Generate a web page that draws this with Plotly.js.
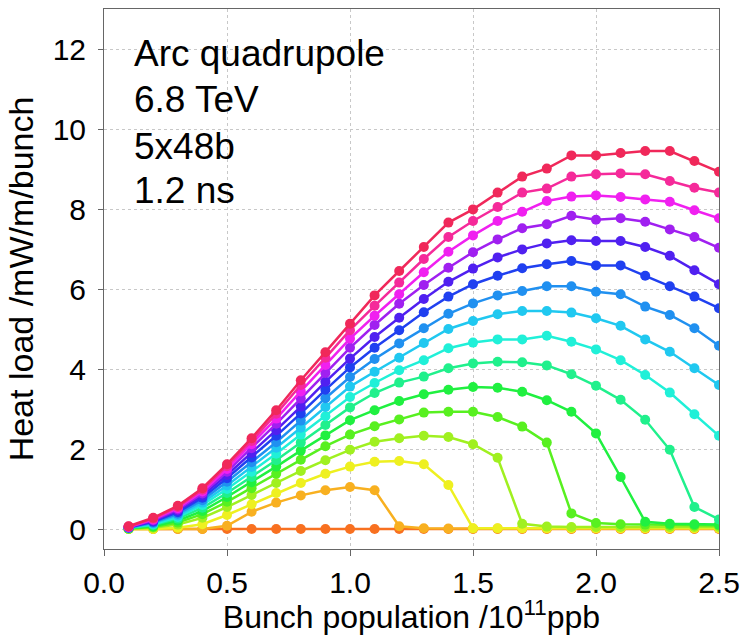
<!DOCTYPE html>
<html>
<head>
<meta charset="utf-8">
<script src="https://cdn.plot.ly/plotly-3.0.1.min.js"></script>
<style>html,body{margin:0;padding:0;background:#fff;}#chart{width:745px;height:635px;}</style>
</head>
<body>
<div id="chart"></div>
<script>
// Bunch population (1e11 ppb)
const bunchPop = [0.1,0.2,0.3,0.4,0.5,0.6,0.7,0.8,0.9,1.0,1.1,1.2,1.3,1.4,1.5,1.6,1.7,1.8,1.9,2.0,2.1,2.2,2.3,2.4,2.5];

// Heat load series (mW/m/bunch), from lowest to highest curve
const s16 = [0,0,0,0,0,0,0,0,0,0,0,0,0,0,0,0,0,0,0,0,0,0,0,0,0];
const s15 = [0.00,0.00,0.00,0.00,0.08,0.43,0.66,0.84,0.97,1.05,0.97,0.07,0.02,0.01,0.01,0.01,0.01,0.01,0.01,0.01,0.01,0.01,0.01,0.01,0.01];
const s14 = [0.00,0.00,0.03,0.12,0.35,0.62,0.90,1.15,1.38,1.56,1.68,1.70,1.62,1.10,0.02,0.02,0.02,0.02,0.02,0.02,0.02,0.02,0.02,0.02,0.02];
const s13 = [0.00,0.03,0.11,0.28,0.55,0.85,1.15,1.45,1.72,1.98,2.18,2.27,2.33,2.30,2.12,1.78,0.13,0.06,0.05,0.05,0.05,0.05,0.05,0.05,0.05];
const s12 = [0.01,0.05,0.16,0.37,0.68,1.02,1.38,1.73,2.07,2.36,2.57,2.74,2.91,2.93,2.93,2.80,2.56,2.16,0.39,0.15,0.12,0.11,0.10,0.09,0.09];
const s11 = [0.02,0.07,0.21,0.45,0.80,1.17,1.56,1.96,2.34,2.72,2.97,3.20,3.37,3.48,3.55,3.53,3.43,3.22,2.93,2.39,1.30,0.18,0.13,0.12,0.11];
const s10 = [0.02,0.10,0.26,0.53,0.90,1.30,1.72,2.16,2.60,3.04,3.40,3.66,3.81,4.02,4.14,4.18,4.17,4.09,3.87,3.58,3.23,2.73,1.98,0.55,0.24];
const s9  = [0.03,0.12,0.30,0.60,1.00,1.43,1.88,2.36,2.82,3.30,3.65,3.97,4.22,4.52,4.66,4.74,4.74,4.83,4.68,4.49,4.22,3.85,3.41,2.87,2.33];
const s8  = [0.03,0.14,0.34,0.66,1.09,1.55,2.03,2.53,3.05,3.56,3.93,4.28,4.65,5.00,5.20,5.37,5.45,5.45,5.41,5.27,5.08,4.74,4.43,4.02,3.60];
const s7  = [0.03,0.16,0.38,0.72,1.18,1.67,2.17,2.71,3.27,3.80,4.25,4.64,5.02,5.38,5.64,5.84,5.95,6.07,6.07,5.93,5.87,5.56,5.35,5.02,4.58];
const s6  = [0.04,0.18,0.42,0.78,1.27,1.79,2.33,2.89,3.48,4.04,4.53,4.97,5.42,5.81,6.12,6.33,6.52,6.62,6.70,6.59,6.59,6.33,6.07,5.81,5.52];
const s5  = [0.04,0.20,0.46,0.84,1.35,1.90,2.47,3.06,3.68,4.26,4.80,5.28,5.75,6.18,6.51,6.79,6.99,7.14,7.22,7.20,7.20,7.05,6.83,6.47,6.12];
const s4  = [0.05,0.22,0.49,0.89,1.43,2.02,2.63,3.26,3.90,4.53,5.10,5.63,6.10,6.53,6.92,7.24,7.52,7.62,7.83,7.73,7.77,7.68,7.49,7.30,7.03];
const s3  = [0.05,0.24,0.52,0.94,1.50,2.12,2.76,3.44,4.10,4.76,5.33,5.87,6.42,6.93,7.34,7.70,7.93,8.20,8.31,8.34,8.30,8.24,8.18,7.97,7.77];
const s2  = [0.06,0.26,0.55,0.98,1.57,2.20,2.88,3.60,4.28,4.97,5.58,6.16,6.75,7.30,7.70,8.05,8.41,8.51,8.81,8.87,8.89,8.87,8.70,8.53,8.41];
const s1  = [0.07,0.28,0.58,1.02,1.62,2.27,2.97,3.72,4.42,5.13,5.84,6.45,7.05,7.66,7.99,8.41,8.81,9.01,9.34,9.34,9.40,9.45,9.45,9.20,8.93];

const seriesList = [s16,s15,s14,s13,s12,s11,s10,s9,s8,s7,s6,s5,s4,s3,s2,s1];
const colors = ['#f87020','#f8b020','#eef020','#a0f020','#58f020','#20f040','#20f08c','#20f0d8','#20c8f0','#2090f0','#2040f0','#5020f0','#a020f0','#f020f0','#f52a9a','#f0285a'];

const traces = seriesList.map((ys, i) => ({
  type: 'scatter', mode: 'lines+markers',
  x: bunchPop, y: ys,
  line: {color: colors[i], width: 2.5},
  marker: {color: colors[i], size: 10},
  showlegend: false, hoverinfo: 'skip'
}));

const fontFam = '"Liberation Sans", Arial, sans-serif';
const infoLines = ['Arc quadrupole','6.8 TeV','5x48b','1.2 ns'];
const infoY = [0.918, 0.833, 0.746, 0.664];

const layout = {
  width: 745, height: 635,
  margin: {l: 104, r: 26, t: 9, b: 86},
  paper_bgcolor: '#fff', plot_bgcolor: '#fff',
  font: {family: fontFam, color: '#000'},
  xaxis: {
    range: [0, 2.5], tickvals: [0,0.5,1.0,1.5,2.0,2.5], ticktext: ['0.0','0.5','1.0','1.5','2.0','2.5'],
    showgrid: true, gridcolor: '#c8c8c8', griddash: 'dot', gridwidth: 1,
    zeroline: false, showline: true, linecolor: '#666', linewidth: 1, mirror: true,
    ticks: 'outside', ticklen: 6, tickcolor: '#666', ticklabelstandoff: 1,
    tickfont: {size: 30, family: fontFam, color: '#000'},
    title: {text: 'Bunch population /10<sup>11</sup>ppb', font: {size: 32, family: fontFam, color: '#000'}, standoff: 6},
    automargin: false
  },
  yaxis: {
    range: [-0.5, 13], tickvals: [0,2,4,6,8,10,12],
    showgrid: true, gridcolor: '#c8c8c8', griddash: 'dot', gridwidth: 1,
    zeroline: false, showline: true, linecolor: '#666', linewidth: 1, mirror: true,
    ticks: 'outside', ticklen: 5, tickcolor: '#666', ticklabelstandoff: 6,
    tickfont: {size: 30, family: fontFam, color: '#000'},
    title: {text: 'Heat load /mW/m/bunch', font: {size: 34, family: fontFam, color: '#000'}, standoff: 8},
    automargin: false
  },
  annotations: infoLines.map((t, i) => ({
    text: t, xref: 'paper', yref: 'paper', x: 0.046, y: infoY[i],
    xanchor: 'left', yanchor: 'middle', showarrow: false,
    font: {size: 37, family: fontFam, color: '#000'}
  }))
};

Plotly.newPlot('chart', traces, layout, {displayModeBar: false, staticPlot: true});
</script>
</body>
</html>
